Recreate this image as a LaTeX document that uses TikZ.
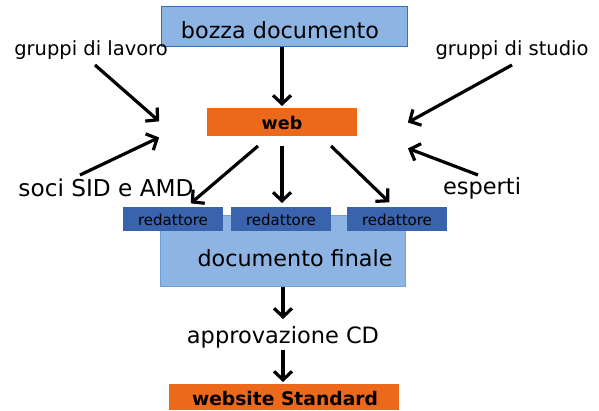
\documentclass[tikz,border=0pt]{standalone}
\usepackage{fontspec}
\setmainfont{DejaVu Sans}
\usetikzlibrary{arrows.meta}
\definecolor{lightbox}{RGB}{141,180,226}
\definecolor{lightedge}{RGB}{46,117,190}
\definecolor{lightedgeb}{RGB}{110,160,215}
\definecolor{orangebox}{RGB}{236,104,26}
\definecolor{redbox}{RGB}{58,99,173}
\tikzset{
  every node/.style={inner sep=0pt, outer sep=0pt},
  lightnode/.style={fill=lightbox, draw=lightedge, line width=0.8pt, anchor=north west},
  orangenode/.style={fill=orangebox, anchor=north west},
  rednode/.style={fill=redbox, anchor=north west, minimum width=100pt, minimum height=24pt},
  redtext/.style={font=\fontsize{15}{17}\selectfont},
  smalltext/.style={font=\fontsize{19.5}{21}\selectfont},
  arr/.style={line width=3.2pt, -{Straight Barb[length=8.5pt,width=18pt]}, shorten >=1pt}
}
\begin{document}
\begin{tikzpicture}[x=1pt,y=-1pt]
\useasboundingbox (0,0) rectangle (599,411);
% boxes
\node[lightnode, minimum width=246pt, minimum height=40pt] (bozza) at (161,6) {};
\node[font=\fontsize{22.3}{24}\selectfont] (bozzat) at (280,30) {bozza documento};
\node[orangenode, minimum width=150pt, minimum height=28pt] (web) at (207,108) {};
\node[font=\bfseries\fontsize{17.5}{19}\selectfont] (webt) at (282,123) {web};
\node[lightnode, draw=lightedgeb, minimum width=245pt, minimum height=71pt] (fin) at (160,215) {};
\node[font=\fontsize{22.3}{24}\selectfont] (fint) at (295,258) {documento finale};
\node[rednode] (r1) at (123,207) {};
\node[rednode] (r2) at (231,207) {};
\node[rednode] (r3) at (347,207) {};
\node[redtext] (r1t) at (173,219.5) {redattore};
\node[redtext] (r2t) at (281,219.5) {redattore};
\node[redtext] (r3t) at (397,219.5) {redattore};
\node[font=\fontsize{22.5}{24}\selectfont] (appr) at (283,337) {approvazione CD};
\node[orangenode, minimum width=230pt, minimum height=26pt] (site) at (169,384) {};
\node[font=\bfseries\fontsize{18.7}{20}\selectfont] (sitet) at (285,398.5) {website Standard};
% labels
\node[smalltext] (gl) at (91,50) {gruppi di lavoro};
\node[smalltext] (gs) at (512,50) {gruppi di studio};
\node[font=\fontsize{23.2}{25}\selectfont] (soci) at (106,188) {soci SID e AMD};
\node[font=\fontsize{22.5}{24}\selectfont] (esp) at (482,188) {esperti};
% coordinates
\coordinate (a1s) at (95,65);  \coordinate (a1e) at (160,122);
\coordinate (a2s) at (80,175); \coordinate (a2e) at (160,137);
\coordinate (a3s) at (512,65); \coordinate (a3e) at (407,123);
\coordinate (a4s) at (478,175);\coordinate (a4e) at (407,148);
\coordinate (w1) at (258,146); \coordinate (w1e) at (190,204);
\coordinate (w2) at (282,146); \coordinate (w2e) at (282,204);
\coordinate (w3) at (331,146); \coordinate (w3e) at (390,203);
\coordinate (b1) at (282,47);  \coordinate (b1e) at (282,107);
\coordinate (f1) at (283,287); \coordinate (f1e) at (283,320);
\coordinate (p1) at (283,350); \coordinate (p1e) at (283,383);
% arrows
\draw[arr] (b1) -- (b1e);
\draw[arr] (a1s) -- (a1e);
\draw[arr] (a2s) -- (a2e);
\draw[arr] (a3s) -- (a3e);
\draw[arr] (a4s) -- (a4e);
\draw[arr] (w1) -- (w1e);
\draw[arr] (w2) -- (w2e);
\draw[arr] (w3) -- (w3e);
\draw[arr] (f1) -- (f1e);
\draw[arr] (p1) -- (p1e);
\end{tikzpicture}
\end{document}
